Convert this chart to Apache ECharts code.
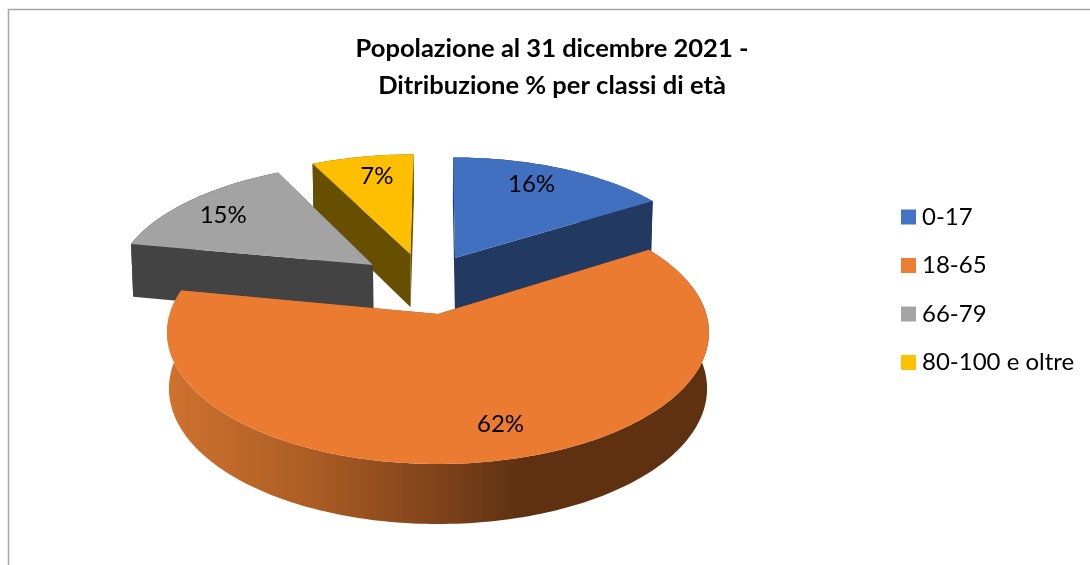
<!DOCTYPE html>
<html>
<head>
<meta charset="utf-8">
<style>html,body{margin:0;padding:0;background:#fff}#chart{width:1090px;height:565px}</style>
<script src="https://cdn.jsdelivr.net/npm/echarts@6/dist/echarts.min.js"></script>
</head>
<body>
<div id="chart"></div>
<script>
const AGE_CLASSES = ['0-17', '18-65', '66-79', '80-100 e oltre'];
const SHARES = [16, 62, 14.6, 7.4];
const TITLE_TEXT = 'Popolazione al 31 dicembre 2021 -\nDitribuzione % per classi di età';

const LEGEND_COLORS = ['#4472C4', '#ED7D31', '#A5A5A5', '#FFC000'];
const TOP_COLORS = ['#4270C0', '#EB7B30', '#A3A3A3', '#FDBF00'];
const WALL_COLORS = ['#223962', '#ED7D31', '#434343', '#665000'];
const DRAW_ORDER = [3, 0, 2, 1];

const PIE = { cx: 438, cy: 314, rx: 268.3, ry: 129, k: 0.14, depth: 55.5, depthK: 0.081, shrink: 0.993 };
const EXPLODE = [[0.0675, 0.462], [0, 0], [-0.256, 0.401], [-0.11, 0.497]];
const LABEL_RADIUS = [0.79, 0.79, 0.79, 0.78];
const LABEL_SHIFT = [[-10, -2], [18, -2], [-3, 2.5], [5, 0]];
const FONT = 'Lato, "Liberation Sans", sans-serif';

const total = SHARES.reduce((a, b) => a + b, 0);
function sliceAngles(i) {
  let before = 0;
  for (let j = 0; j < i; j++) before += SHARES[j];
  return [before / total * 2 * Math.PI, (before + SHARES[i]) / total * 2 * Math.PI];
}
function project(i, r, theta, z) {
  const U = EXPLODE[i][0] + r * Math.sin(theta), V = EXPLODE[i][1] + r * Math.cos(theta);
  const s = 1 / (1 + PIE.k * V);
  const x = PIE.cx + U * PIE.rx * s * (z ? PIE.shrink : 1);
  const y = PIE.cy - V * s * PIE.ry + (z ? PIE.depth * (1 - PIE.depthK * V) : 0);
  return [x, y];
}
function arc(i, a0, a1, r, z) {
  const n = Math.max(4, Math.round((a1 - a0) / 0.02));
  const pts = [];
  for (let j = 0; j <= n; j++) pts.push(project(i, r, a0 + (a1 - a0) * j / n, z));
  return pts;
}
function wallFill(i) {
  if (i !== 1) return WALL_COLORS[i];
  return new echarts.graphic.LinearGradient(170, 0, 710, 0, [
    { offset: 0, color: '#CD722F' },
    { offset: 0.25, color: '#AE5E25' },
    { offset: 0.5, color: '#7E421A' },
    { offset: 0.65, color: '#5F3111' },
    { offset: 1, color: '#5F3111' }
  ], true);
}
function renderSlice(i) {
  return function () {
    const [a0, a1] = sliceAngles(i);
    const rim = arc(i, a0, a1, 1, 0);
    const rimLow = arc(i, a0, a1, 1, 1);
    const apex = project(i, 0, 0, 0), apexLow = project(i, 0, 0, 1);
    const fill = wallFill(i);
    const children = [];
    const wall = pts => ({ type: 'polygon', shape: { points: pts }, style: { fill } });
    children.push(wall([apex, rim[0], rimLow[0], apexLow]));
    children.push(wall([apex, rim[rim.length - 1], rimLow[rimLow.length - 1], apexLow]));
    children.push(wall(rim.concat(rimLow.slice().reverse())));
    children.push({ type: 'polygon', shape: { points: [apex].concat(rim) }, style: { fill: TOP_COLORS[i] } });
    const lp = project(i, LABEL_RADIUS[i], (a0 + a1) / 2, 0);
    children.push({
      type: 'text', z2: 10,
      style: {
        text: Math.round(SHARES[i]) + '%', x: lp[0] + LABEL_SHIFT[i][0], y: lp[1] + LABEL_SHIFT[i][1],
        align: 'center', verticalAlign: 'middle', fill: '#000', font: '24px ' + FONT
      }
    });
    return { type: 'group', children };
  };
}

const chart = echarts.init(document.getElementById('chart'), null, { renderer: 'canvas' });
chart.setOption({
  animation: false,
  backgroundColor: '#fff',
  title: {
    text: TITLE_TEXT, left: 552, top: 30, padding: 0, textAlign: 'center',
    textStyle: { fontFamily: FONT, fontWeight: 'bold', fontSize: 25.5, lineHeight: 37, color: '#000' }
  },
  legend: {
    orient: 'vertical', left: 901, top: 205, padding: 0, icon: 'rect', itemWidth: 15, itemHeight: 15, itemGap: 24.5,
    data: AGE_CLASSES, selectedMode: false,
    textStyle: { fontFamily: FONT, fontSize: 24, color: '#000', padding: [0, 0, 0, 1] }
  },
  graphic: [{
    type: 'polyline', silent: true,
    shape: { points: [[8.5, 565], [8.5, 9.5], [1090, 9.5]] },
    style: { stroke: '#A6A6A6', lineWidth: 1.5, fill: null }
  }],
  series: DRAW_ORDER.map((i, order) => ({
    type: 'custom', coordinateSystem: 'none', name: AGE_CLASSES[i],
    itemStyle: { color: LEGEND_COLORS[i] }, z: 2 + order, silent: true,
    data: [[SHARES[i]]],
    renderItem: renderSlice(i)
  }))
});
</script>
</body>
</html>
